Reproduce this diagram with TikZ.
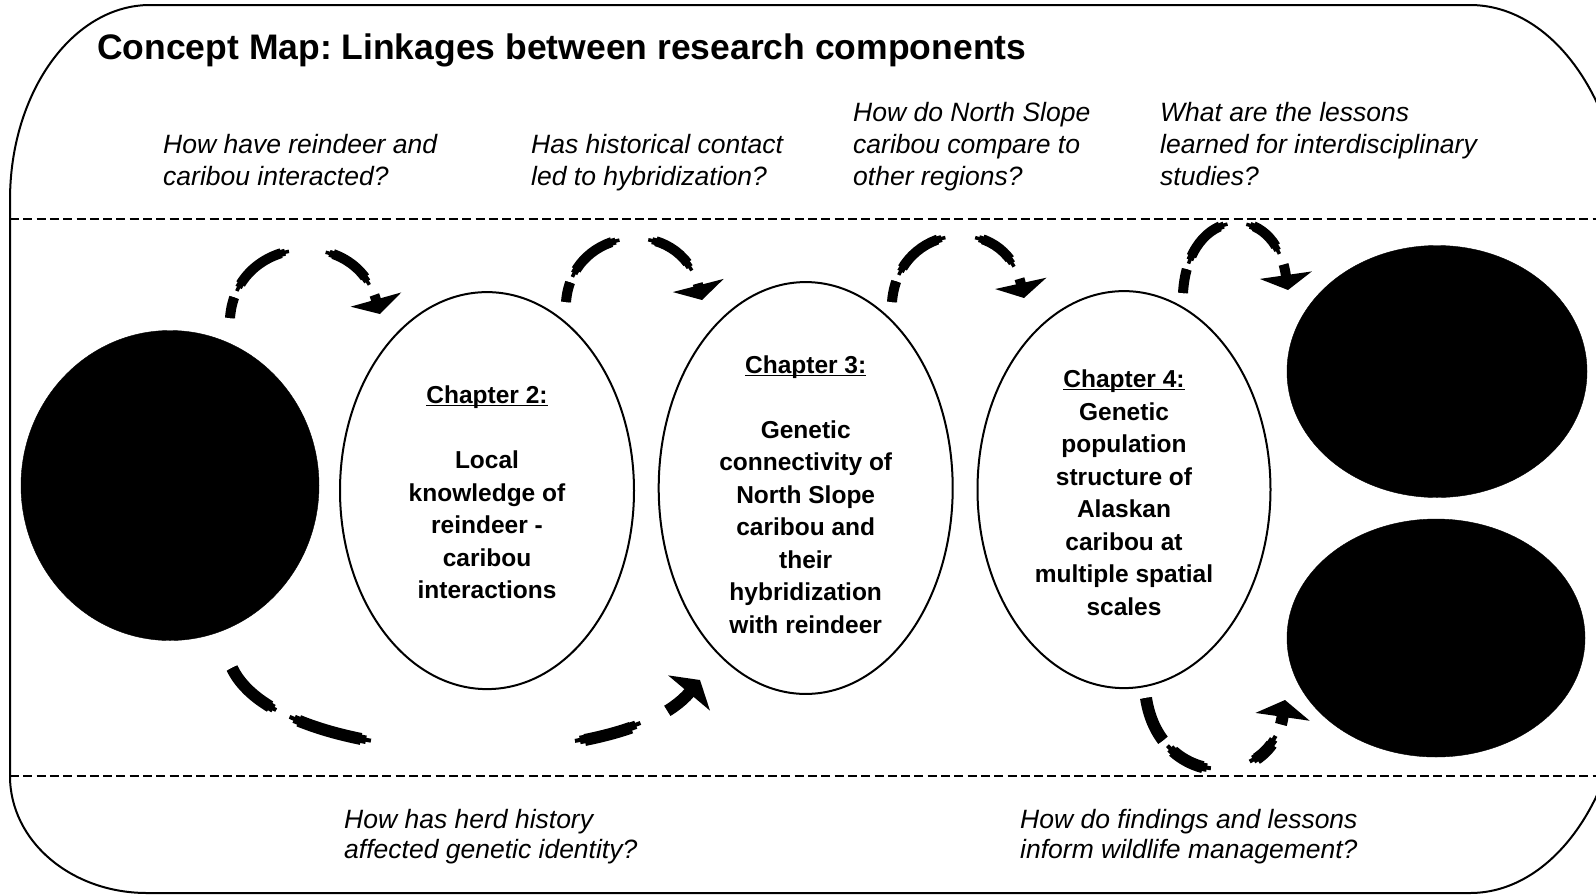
\documentclass[tikz,border=0pt]{standalone}
\usepackage{fontspec}
\setmainfont{Liberation Sans}
\usetikzlibrary{shapes.geometric,arrows.meta}
\frenchspacing
\tikzset{
  frame/.style={line width=2pt},
  divider/.style={line width=2.2pt, dash pattern=on 9pt off 4.3pt},
  blob/.style={ellipse, fill=black, draw=black, inner sep=0pt},
  chapter/.style={ellipse, draw, line width=2pt, inner sep=0pt, align=center,
    font=\fontsize{24.5}{32.5}\selectfont\bfseries},
  question/.style={anchor=north west, align=left, inner sep=0pt,
    font=\fontsize{26.5}{32}\selectfont\itshape},
  questionlow/.style={question, font=\fontsize{26.5}{30.5}\selectfont\itshape},
  flowthin/.style={line width=3.5pt, shorten >=12pt},
  flowmid/.style={line width=7pt, shorten >=12pt},
  flowthick/.style={line width=10pt, -{Triangle[width=52pt,length=15pt]}},
  lowthin/.style={line width=4pt, shorten >=12pt},
  lowmid/.style={line width=8.5pt, shorten >=12pt},
  lowthick/.style={line width=12pt, -{Triangle[width=54pt,length=17pt]}},
}
\newcommand\chaphead[1]{\underline{\smash{#1}}}
\begin{document}
\begin{tikzpicture}[x=1pt,y=-1pt]
\path[use as bounding box] (0,0) rectangle (1596,895);
\clip (0,0) rectangle (1596,895);

% outer frame
\draw[frame] (150,5) -- (1470,5) .. controls (1556,5) and (1625,108) .. (1625,235)
  -- (1625,663) .. controls (1625,790) and (1556,893) .. (1470,893)
  -- (147,893) .. controls (71,893) and (10,841) .. (10,776)
  -- (10,200) .. controls (10,92) and (73,5) .. cycle;

% dividers
\draw[divider] (10,219) -- (1596,219);
\draw[divider] (10,776) -- (1596,776);

% title
\node[anchor=base west, inner sep=0pt, font=\fontsize{35.5}{40}\selectfont\bfseries] (title) at (97,59)
  {Concept Map: Linkages between research components};

% questions
\node[question] (q1) at (163,134) {How have reindeer and\\caribou interacted?};
\node[question] (q2) at (531,134) {Has historical contact\\led to hybridization?};
\node[question] (q3) at (853,102) {How do North Slope\\caribou compare to\\other regions?};
\node[question] (q4) at (1160,102) {What are the lessons\\learned for interdisciplinary\\studies?};
\node[questionlow] (q5) at (344,809) {How has herd history\\affected genetic identity?};
\node[questionlow] (q6) at (1020,809) {How do findings and lessons\\inform wildlife management?};

% black blobs
\node[blob, minimum width=298pt, minimum height=310pt] (left) at (170,485.5) {};
\node[blob, minimum width=300pt, minimum height=252pt] (rtop) at (1437,371.5) {};
\node[blob, minimum width=298pt, minimum height=238pt] (rbot) at (1436,638) {};

% chapters
\node[chapter, minimum width=294pt, minimum height=397pt] (ch2) at (487,490.6)
  {\rule{0pt}{22pt}\chaphead{Chapter 2:}\\[32.5pt]Local\\knowledge of\\reindeer -\\caribou\\interactions};
\node[chapter, minimum width=294pt, minimum height=400pt] (ch3) at (805.7,488)
  {\rule{0pt}{31pt}\chaphead{Chapter 3:}\\[32.5pt]Genetic\\connectivity of\\North Slope\\caribou and\\their\\hybridization\\with reindeer};
\node[chapter, minimum width=293pt, minimum height=397pt] (ch4) at (1124,489.6)
  {\rule{0pt}{24pt}\chaphead{Chapter 4:}\\Genetic\\population\\structure of\\Alaskan\\caribou at\\multiple spatial\\scales};

% connector end points
\coordinate (a1s) at (230,318);  \coordinate (a1e) at (380,314);
\coordinate (a2s) at (566,302);  \coordinate (a2e) at (702,300);
\coordinate (a3s) at (892,302);  \coordinate (a3e) at (1024,298);
\coordinate (a4s) at (1183,293); \coordinate (a4e) at (1288,290);
\coordinate (a5s) at (232,668);  \coordinate (a5e) at (700,680);
\coordinate (a6s) at (1146,698); \coordinate (a6e) at (1285,700);

% connectors: three passes of decreasing dash length give tapered strokes
\draw[flowthin, dash pattern=on 21pt off 7pt on 68pt off 37pt on 56pt off 12pt on 300pt]
  (a1s) .. controls +(6,-83) and +(-25,-89) .. (a1e);
\draw[flowmid, dash pattern=on 21pt off 11pt on 60pt off 45pt on 48pt off 16pt on 300pt]
  (a1s) .. controls +(6,-83) and +(-25,-89) .. (a1e);
\draw[flowthick, dash pattern=on 21pt off 15pt on 52pt off 53pt on 40pt off 20pt on 300pt]
  (a1s) .. controls +(6,-83) and +(-25,-89) .. (a1e);

\draw[flowthin, dash pattern=on 20pt off 6pt on 62pt off 29pt on 55pt off 15pt on 300pt]
  (a2s) .. controls +(6,-77) and +(-22,-85) .. (a2e);
\draw[flowmid, dash pattern=on 20pt off 10pt on 54pt off 37pt on 47pt off 19pt on 300pt]
  (a2s) .. controls +(6,-77) and +(-22,-85) .. (a2e);
\draw[flowthick, dash pattern=on 20pt off 14pt on 46pt off 45pt on 39pt off 23pt on 300pt]
  (a2s) .. controls +(6,-77) and +(-22,-85) .. (a2e);

\draw[flowthin, dash pattern=on 21pt off 7pt on 62pt off 30pt on 50pt off 14pt on 300pt]
  (a3s) .. controls +(6,-80) and +(-19,-86) .. (a3e);
\draw[flowmid, dash pattern=on 21pt off 11pt on 54pt off 38pt on 42pt off 18pt on 300pt]
  (a3s) .. controls +(6,-80) and +(-19,-86) .. (a3e);
\draw[flowthick, dash pattern=on 21pt off 15pt on 46pt off 46pt on 34pt off 22pt on 300pt]
  (a3s) .. controls +(6,-80) and +(-19,-86) .. (a3e);

\draw[flowthin, dash pattern=on 24pt off 6pt on 58pt off 19pt on 46pt off 12pt on 300pt]
  (a4s) .. controls +(5,-88) and +(-13,-90) .. (a4e);
\draw[flowmid, dash pattern=on 24pt off 10pt on 50pt off 27pt on 38pt off 16pt on 300pt]
  (a4s) .. controls +(5,-88) and +(-13,-90) .. (a4e);
\draw[flowthick, dash pattern=on 24pt off 14pt on 42pt off 35pt on 30pt off 20pt on 300pt]
  (a4s) .. controls +(5,-88) and +(-13,-90) .. (a4e);

\draw[lowthin, dash pattern=on 62pt off 15pt on 85pt off 205pt on 68pt off 30pt on 300pt]
  (a5s) .. controls +(48,102) and +(-80,95) .. (a5e);
\draw[lowmid, dash pattern=on 59pt off 23pt on 75pt off 215pt on 58pt off 35pt on 300pt]
  (a5s) .. controls +(48,102) and +(-80,95) .. (a5e);
\draw[lowthick, dash pattern=on 55pt off 32pt on 65pt off 225pt on 48pt off 40pt on 300pt]
  (a5s) .. controls +(48,102) and +(-80,95) .. (a5e);

\draw[lowthin, dash pattern=on 46pt off 7pt on 50pt off 40pt on 37pt off 14pt on 200pt]
  (a6s) .. controls +(14,92) and +(-13,90) .. (a6e);
\draw[lowmid, dash pattern=on 46pt off 11pt on 42pt off 48pt on 29pt off 18pt on 200pt]
  (a6s) .. controls +(14,92) and +(-13,90) .. (a6e);
\draw[lowthick, dash pattern=on 46pt off 15pt on 34pt off 56pt on 21pt off 22pt on 200pt]
  (a6s) .. controls +(14,92) and +(-13,90) .. (a6e);
\end{tikzpicture}
\end{document}
